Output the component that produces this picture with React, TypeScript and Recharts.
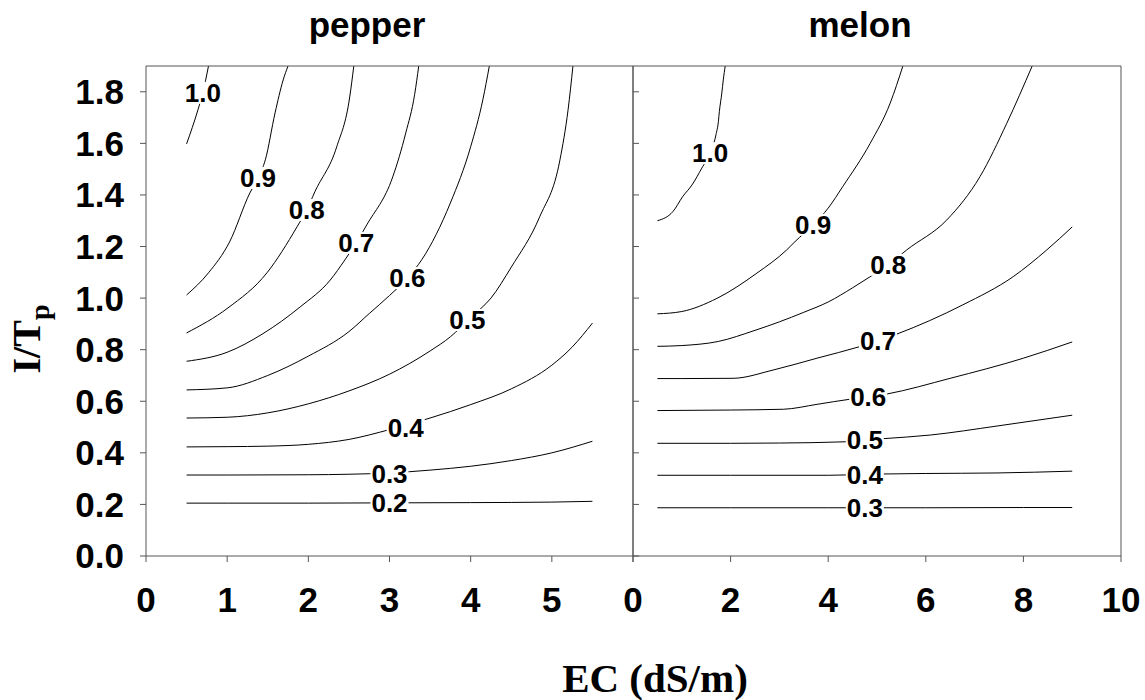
import React from 'react';
import { ComposedChart, Line, Scatter, XAxis, YAxis } from 'recharts';

// ---------- tick labels ----------
const yTicks = [0, 0.2, 0.4, 0.6, 0.8, 1.0, 1.2, 1.4, 1.6, 1.8];
const pepperXTicks = [0, 1, 2, 3, 4, 5, 6];
const melonXTicks = [0, 2, 4, 6, 8, 10];

// ---------- pepper contours [EC, I/Tp] ----------
const pepper02 = [[0.5, 0.205], [1, 0.205], [2, 0.205], [3, 0.206], [4, 0.207], [5, 0.209], [5.5, 0.212]];
const pepper03 = [[0.5, 0.314], [1, 0.314], [2, 0.315], [2.5, 0.317], [3, 0.322], [3.5, 0.333], [4, 0.348], [4.5, 0.37], [5, 0.4], [5.5, 0.445]];
const pepper04 = [[0.5, 0.423], [1, 0.424], [1.5, 0.426], [2, 0.433], [2.5, 0.452], [3, 0.49], [3.5, 0.535], [4, 0.587], [4.5, 0.648], [5, 0.74], [5.25, 0.81], [5.5, 0.903]];
const pepper05 = [[0.5, 0.535], [1, 0.538], [1.5, 0.555], [2, 0.59], [2.5, 0.64], [3, 0.705], [3.5, 0.795], [3.75, 0.85], [4, 0.925], [4.25, 1.0], [4.5, 1.12], [4.85, 1.315], [5.1, 1.536], [5.2, 1.73], [5.26, 1.9]];
const pepper06 = [[0.5, 0.644], [1, 0.652], [1.5, 0.7], [2, 0.775], [2.5, 0.87], [2.75, 0.94], [3, 1.01], [3.22, 1.078], [3.4, 1.15], [3.75, 1.369], [4, 1.587], [4.15, 1.769], [4.23, 1.9]];
const pepper07 = [[0.5, 0.755], [1, 0.79], [1.44, 0.862], [1.9, 0.966], [2.27, 1.07], [2.45, 1.148], [2.59, 1.214], [2.72, 1.284], [3.04, 1.47], [3.2, 1.64], [3.31, 1.79], [3.36, 1.9]];
const pepper08 = [[0.5, 0.865], [1.01, 0.962], [1.49, 1.098], [1.86, 1.276], [1.98, 1.342], [2.08, 1.412], [2.35, 1.587], [2.51, 1.78], [2.56, 1.9]];
const pepper09 = [[0.5, 1.012], [0.77, 1.098], [1.03, 1.218], [1.28, 1.408], [1.38, 1.466], [1.47, 1.536], [1.59, 1.718], [1.69, 1.846], [1.75, 1.9]];
const pepper10 = [[0.5, 1.598], [0.64, 1.73], [0.7, 1.796], [0.77, 1.9]];

const pepperLabelText = ['0.2', '0.3', '0.4', '0.5', '0.6', '0.7', '0.8', '0.9', '1.0'];
const pepperLabelX = [3.0, 3.0, 3.2, 3.96, 3.22, 2.59, 1.98, 1.38, 0.7];
const pepperLabelY = [0.205, 0.318, 0.497, 0.915, 1.078, 1.214, 1.342, 1.466, 1.796];

// ---------- melon contours [EC, I/Tp] ----------
const melon03 = [[0.5, 0.187], [2, 0.187], [4, 0.187], [6, 0.187], [8, 0.188], [9, 0.188]];
const melon04 = [[0.5, 0.313], [2, 0.313], [4, 0.313], [5.13, 0.318], [6, 0.32], [7.46, 0.322], [9, 0.329]];
const melon05 = [[0.5, 0.437], [2, 0.437], [3, 0.438], [4.38, 0.443], [4.75, 0.45], [5.13, 0.455], [6.09, 0.469], [7.46, 0.504], [9, 0.546]];
const melon06 = [[0.5, 0.564], [2, 0.566], [3.08, 0.569], [3.77, 0.588], [4.45, 0.608], [4.82, 0.616], [5.2, 0.628], [6.5, 0.689], [8, 0.767], [9, 0.83]];
const melon07 = [[0.5, 0.688], [1, 0.688], [2.05, 0.689], [2.87, 0.721], [3.77, 0.767], [4.65, 0.812], [5.02, 0.834], [5.4, 0.86], [6.76, 0.974], [7.79, 1.083], [8.48, 1.187], [9, 1.276]];
const melon08 = [[0.5, 0.813], [1, 0.816], [1.75, 0.832], [2.5, 0.875], [3, 0.908], [3.5, 0.945], [4, 0.985], [4.5, 1.04], [4.86, 1.083], [5.23, 1.129], [5.61, 1.187], [6.43, 1.303], [7.11, 1.471], [7.66, 1.678], [8.18, 1.9]];
const melon09 = [[0.5, 0.939], [1, 0.948], [1.72, 0.999], [2.54, 1.097], [3.15, 1.187], [3.32, 1.219], [3.69, 1.284], [4.0, 1.349], [4.3, 1.433], [4.86, 1.6], [5.27, 1.756], [5.53, 1.9]];
const melon10 = [[0.5, 1.3], [0.82, 1.336], [1.02, 1.394], [1.21, 1.439], [1.41, 1.504], [1.58, 1.562], [1.7, 1.633], [1.75, 1.685], [1.77, 1.724], [1.82, 1.795], [1.85, 1.846], [1.89, 1.9]];

const melonLabelText = ['0.3', '0.4', '0.5', '0.6', '0.7', '0.8', '0.9', '1.0'];
const melonLabelX = [4.75, 4.75, 4.75, 4.82, 5.02, 5.23, 3.69, 1.58];
const melonLabelY = [0.187, 0.313, 0.45, 0.616, 0.834, 1.129, 1.284, 1.562];

// ---------- helpers ----------
const toPts = (arr: number[][]) => arr.map(([x, y]) => ({ x, y }));
const toLabels = (t: string[], xs: number[], ys: number[]) => t.map((label, i) => ({ x: xs[i], y: ys[i], label }));

const pepperLines = [pepper02, pepper03, pepper04, pepper05, pepper06, pepper07, pepper08, pepper09, pepper10].map(toPts);
const melonLines = [melon03, melon04, melon05, melon06, melon07, melon08, melon09, melon10].map(toPts);
const pepperLabels = toLabels(pepperLabelText, pepperLabelX, pepperLabelY);
const melonLabels = toLabels(melonLabelText, melonLabelX, melonLabelY);

const SANS = '"Liberation Sans", Arial, Helvetica, sans-serif';
const SERIF = '"Liberation Serif", "Times New Roman", serif';
const AXIS = '#555';
const tickStyle = { fill: '#000', fontSize: 35, fontWeight: 'bold', fontFamily: SANS } as any;

const ContourLabel = (props: any) => {
  const { cx, cy, payload } = props;
  if (cx == null || cy == null) return null;
  return (
    <g>
      <rect x={cx - 19} y={cy - 11} width={38} height={22} fill="#fff" />
      <text
        x={cx}
        y={cy + 9}
        textAnchor="middle"
        fontFamily={SANS}
        fontWeight="bold"
        fontSize={26}
        fill="#000"
      >
        {payload.label}
      </text>
    </g>
  );
};

const W = 1145;
const H = 700;

const Panel = ({
  lines,
  labels,
  xDomain,
  xTicks,
  margin,
  leftLabels,
  rightTickLine,
  hideLastX,
}: any) => (
  <div style={{ position: 'absolute', left: 0, top: 0 }}>
    <ComposedChart width={W} height={H} margin={margin}>
      <XAxis
        xAxisId={0}
        type="number"
        dataKey="x"
        domain={xDomain}
        ticks={xTicks}
        allowDataOverflow
        interval={0}
        height={70}
        tickSize={6}
        tickMargin={25}
        stroke={AXIS}
        tick={tickStyle}
        tickFormatter={(v: number) => (hideLastX && v === xDomain[1] ? '' : String(v))}
      />
      <XAxis
        xAxisId="top"
        orientation="top"
        type="number"
        dataKey="x"
        domain={xDomain}
        ticks={xTicks}
        allowDataOverflow
        height={2}
        tickLine={false}
        tickFormatter={() => ''}
        stroke={AXIS}
      />
      <YAxis
        yAxisId={0}
        type="number"
        dataKey="y"
        domain={[0, 1.9]}
        ticks={yTicks}
        allowDataOverflow
        interval={0}
        width={leftLabels ? 60 : 20}
        tickSize={6}
        tickMargin={16}
        stroke={AXIS}
        tick={leftLabels ? tickStyle : false}
        tickFormatter={(v: number) => (leftLabels ? v.toFixed(1) : '')}
      />
      <YAxis
        yAxisId="right"
        orientation="right"
        type="number"
        dataKey="y"
        domain={[0, 1.9]}
        ticks={yTicks}
        allowDataOverflow
        interval={0}
        width={rightTickLine ? 20 : 10}
        tickSize={6}
        tickLine={rightTickLine}
        tickFormatter={() => ''}
        stroke={AXIS}
      />
      {lines.map((d: any, i: number) => (
        <Line
          key={i}
          data={d}
          dataKey="y"
          type="monotoneX"
          stroke="#000"
          strokeWidth={1}
          dot={false}
          activeDot={false}
          isAnimationActive={false}
        />
      ))}
      {/* invisible series bound to the frame axes so they are drawn */}
      <Line
        data={lines[0]}
        xAxisId="top"
        yAxisId="right"
        dataKey="y"
        stroke="none"
        dot={false}
        activeDot={false}
        isAnimationActive={false}
      />
      <Scatter data={labels} dataKey="y" shape={<ContourLabel />} isAnimationActive={false} />
    </ComposedChart>
  </div>
);

export default function App() {
  return (
    <div style={{ position: 'absolute', left: 0, top: 0, width: W, height: H, background: '#fff' }}>
      <Panel
        lines={pepperLines}
        labels={pepperLabels}
        xDomain={[0, 6]}
        xTicks={pepperXTicks}
        margin={{ top: 64, left: 86, right: W - 633 - 20, bottom: H - 556 - 70 }}
        leftLabels
        rightTickLine
        hideLastX
      />
      <Panel
        lines={melonLines}
        labels={melonLabels}
        xDomain={[0, 10]}
        xTicks={melonXTicks}
        margin={{ top: 64, left: 613, right: W - 1121 - 10, bottom: H - 556 - 70 }}
        leftLabels={false}
        rightTickLine={false}
        hideLastX={false}
      />
      <svg width={W} height={H} style={{ position: 'absolute', left: 0, top: 0, pointerEvents: 'none' }}>
        <text x={367} y={37} textAnchor="middle" fontFamily={SANS} fontWeight="bold" fontSize={35} fill="#000">
          pepper
        </text>
        <text x={860} y={37} textAnchor="middle" fontFamily={SANS} fontWeight="bold" fontSize={35} fill="#000">
          melon
        </text>
        <text x={655} y={692} textAnchor="middle" fontFamily={SERIF} fontWeight="bold" fontSize={41} fill="#000">
          EC (dS/m)
        </text>
        <text
          transform="translate(40,339) rotate(-90)"
          textAnchor="middle"
          fontFamily={SERIF}
          fontWeight="bold"
          fontSize={40}
          fill="#000"
        >
          I/T
          <tspan dy={9} fontSize={28}>
            p
          </tspan>
        </text>
      </svg>
    </div>
  );
}
